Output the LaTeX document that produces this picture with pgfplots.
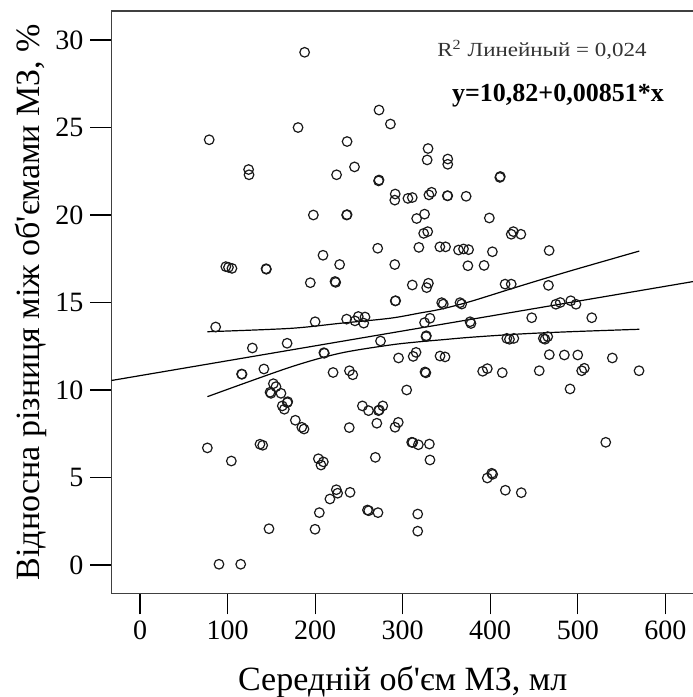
\documentclass[border=0pt]{standalone}
\usepackage{fontspec}
\setmainfont{Liberation Serif}[Ligatures=TeXOff]
\usepackage{pgfplots}
\pgfplotsset{compat=1.18}
\begin{document}
\begin{tikzpicture}
\begin{axis}[name=ax, scale only axis, width=291.25pt, height=291.15pt,
 xmin=-32.6, xmax=632.8, ymin=-1.62, ymax=31.66,
 xtick={0,100,...,600}, ytick={0,5,...,30},
 tick align=outside, xtick pos=bottom, ytick pos=left, major tick length=10.5pt,
 tick style={black, line width=0.6pt},
 axis line style={black!75, line width=0.75pt},
 /pgf/number format/assume math mode=true,
 ticklabel style={font=\fontsize{14}{16}\selectfont},
 label style={font=\fontsize{17}{20}\selectfont},
 xlabel={Середній об'єм МЗ, мл},
 ylabel={Відносна різниця між об'ємами МЗ, \%},
 xlabel style={at={(axis description cs:0.5,-0.1661)}, anchor=base},
 ylabel style={at={(axis description cs:-0.1238,0.5)}, anchor=base, rotate=0},
]
\addplot[only marks, mark=o, mark size=2.4pt, mark options={draw=black!90, line width=0.6pt}] coordinates {
(188,29.3) (79,24.3) (180.5,25.0) (273,26.0) (286,25.2) (236.5,24.2) (329,23.8) (328,23.15)
(351.5,23.2) (351.5,22.9) (124,22.6) (124.5,22.3) (245,22.75) (224.5,22.3) (273,22.0) (272.5,21.95)
(411.5,22.2) (411,22.15) (291.5,21.2) (291,20.85) (306,20.95) (311,21.0) (330,21.15) (333,21.3)
(351,21.1) (351.5,21.1) (372.5,21.07) (198,20.0) (236,20.0) (236.5,20.02) (316,19.8) (325,20.05)
(399,19.83) (324,18.95) (328.6,19.05) (424,18.9) (426.4,19.05) (435,18.9) (271.5,18.1) (318.5,18.15)
(342.5,18.18) (349,18.18) (363.8,18.0) (369.5,18.06) (375.3,18.02) (402.5,17.9) (467.3,17.97) (209,17.7)
(228,17.17) (291,17.17) (374.5,17.1) (393,17.12) (98,17.05) (101,17.01) (105,16.95) (144,16.93)
(144.3,16.9) (194.5,16.13) (222.7,16.2) (223.5,16.15) (311,16.0) (329.4,16.1) (327.4,15.85) (417,16.05)
(424,16.05) (466.5,15.98) (291.5,15.09) (292,15.1) (344.6,14.99) (346.4,14.91) (365.5,14.99) (367.4,14.91)
(475,14.9) (480,15.0) (492,15.1) (498,14.9) (236,14.05) (245.5,13.95) (249.3,14.2) (257,14.17)
(255.5,13.82) (200,13.9) (86.4,13.6) (331.2,14.1) (325,13.85) (377,13.9) (378,13.8) (447.4,14.13)
(516,14.13) (274.7,12.8) (326.7,13.05) (327,13.1) (168,12.67) (128.3,12.4) (210,12.13) (210.5,12.1)
(419,12.95) (422,12.9) (427,12.95) (460.7,12.95) (462.6,12.9) (465.7,13.05) (295.3,11.83) (312,11.92)
(315.3,12.15) (342.7,11.94) (348.4,11.89) (467.5,12.02) (484.7,12.0) (500,12.0) (539.5,11.83) (141.5,11.2)
(116,10.91) (116.5,10.9) (220.5,11.0) (239.2,11.1) (243,10.87) (325.5,11.03) (326.5,10.98) (391.4,11.07)
(396.7,11.22) (413.8,10.99) (456,11.1) (504.5,11.1) (507.5,11.24) (570,11.1) (304.6,10.0) (491.2,10.06)
(152.3,10.36) (155.3,10.19) (148.5,9.87) (149.6,9.81) (161,9.81) (168.7,9.33) (168.2,9.28) (162.5,9.09)
(164.8,8.9) (177.4,8.27) (184.8,7.87) (187.3,7.77) (239,7.85) (254,9.09) (261,8.82) (272.3,8.82)
(273.3,8.86) (277.3,9.09) (270.5,8.1) (291.3,7.87) (295,8.15) (310.3,7.01) (311.5,7.0) (317.9,6.87)
(330.5,6.91) (331.2,6.0) (532,7.01) (76.9,6.69) (104.3,5.94) (137,6.9) (140.1,6.84) (203.7,6.07)
(209.4,5.89) (206.7,5.71) (268.8,6.15) (396.7,4.97) (401.7,5.24) (402.8,5.18) (417.3,4.27) (435.5,4.13)
(216.9,3.77) (224.2,4.3) (225.7,4.1) (239.9,4.15) (204.8,2.99) (259.8,3.14) (261.2,3.1) (271.8,2.99)
(317.2,2.91) (317.2,1.93) (147.3,2.07) (199.9,2.04) (90.2,0.04) (115,0.04)
};
% regression line
\addplot[black, line width=0.6pt] coordinates {(-32.6,10.543) (632.8,16.205)};
% confidence bands
\addplot[black, line width=0.6pt, smooth] coordinates {
(77,13.33) (171.3,13.52) (228.4,13.81) (285.6,14.1) (319.8,14.4) (342.7,14.61) (376.9,15.05) (434,15.94) (491.1,16.8) (570.3,17.94)};
\addplot[black, line width=0.6pt, smooth] coordinates {
(77,9.62) (171.3,11.3) (228.4,12.1) (285.6,12.57) (319.8,12.76) (342.7,12.86) (376.9,13.01) (434,13.2) (491.1,13.33) (570.3,13.47)};
\node[anchor=base, text=black!80, font=\fontsize{10}{12}\selectfont] at (axis cs:459.2,29.05) {\scalebox{1.15}[1]{R\textsuperscript{2} Линейный = 0,024}};
\node[anchor=base, font=\fontsize{13}{15}\selectfont\bfseries] at (axis cs:477.4,26.47) {y=10,82+0,00851*x};
\end{axis}
\pgfresetboundingbox
\path[use as bounding box] ([shift={(-55.75pt,-51.85pt)}]ax.south west) rectangle ([shift={(-1pt,5.5pt)}]ax.north east);
\end{tikzpicture}
\end{document}
